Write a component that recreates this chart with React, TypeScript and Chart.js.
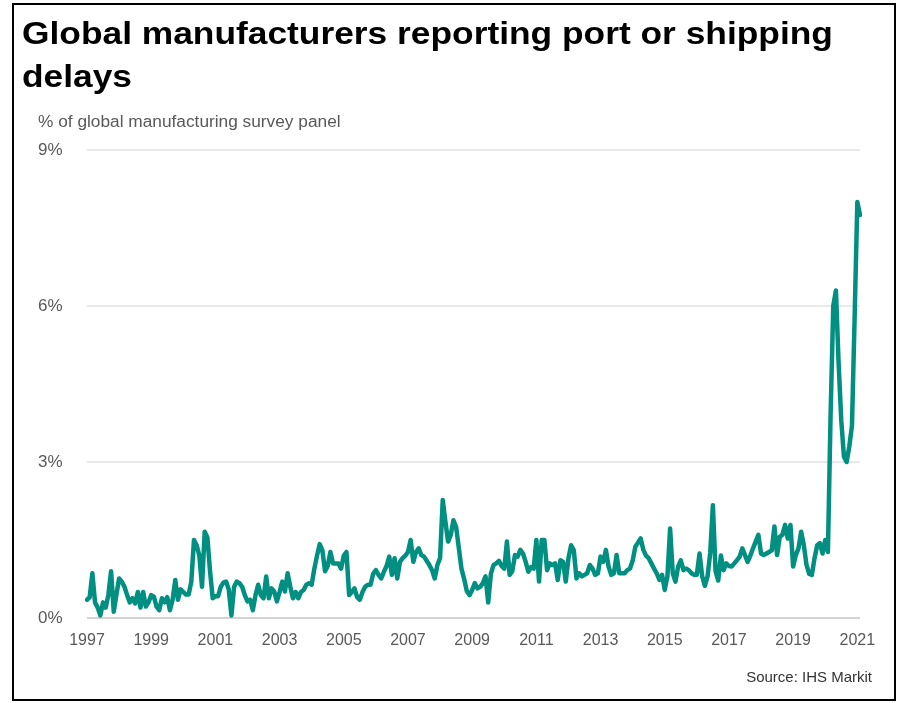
import React, { useEffect, useRef } from "react";
import { Chart, registerables } from "chart.js";

Chart.register(...registerables);

// Monthly values (% of global manufacturing survey panel), Jan 1997 – Feb 2021
const v1997 = [0.35, 0.40, 0.86, 0.30, 0.20, 0.05, 0.30, 0.20, 0.45, 0.90, 0.12, 0.45];
const v1998 = [0.76, 0.70, 0.60, 0.44, 0.30, 0.38, 0.28, 0.50, 0.20, 0.50, 0.22, 0.30];
const v1999 = [0.44, 0.41, 0.22, 0.15, 0.38, 0.30, 0.40, 0.15, 0.35, 0.73, 0.35, 0.55];
const v2000 = [0.50, 0.45, 0.45, 0.70, 1.50, 1.40, 1.20, 0.60, 1.66, 1.55, 0.90, 0.38];
const v2001 = [0.42, 0.42, 0.60, 0.68, 0.70, 0.55, 0.05, 0.60, 0.70, 0.67, 0.60, 0.44];
const v2002 = [0.32, 0.35, 0.15, 0.44, 0.64, 0.44, 0.38, 0.80, 0.38, 0.57, 0.51, 0.32];
const v2003 = [0.50, 0.70, 0.51, 0.86, 0.60, 0.38, 0.50, 0.38, 0.50, 0.54, 0.64, 0.67];
const v2004 = [0.64, 0.95, 1.20, 1.42, 1.30, 0.90, 1.00, 1.27, 1.05, 1.05, 1.05, 0.95];
const v2005 = [1.20, 1.27, 0.44, 0.50, 0.57, 0.40, 0.35, 0.50, 0.60, 0.64, 0.64, 0.85];
const v2006 = [0.92, 0.83, 0.76, 0.89, 1.00, 1.18, 0.83, 1.15, 0.76, 1.08, 1.15, 1.20];
const v2007 = [1.27, 1.50, 1.08, 1.27, 1.34, 1.21, 1.18, 1.10, 1.02, 0.92, 0.76, 1.02];
const v2008 = [1.15, 2.27, 1.85, 1.47, 1.60, 1.88, 1.75, 1.35, 0.95, 0.75, 0.52, 0.44];
const v2009 = [0.54, 0.67, 0.57, 0.60, 0.67, 0.80, 0.30, 0.85, 1.02, 1.05, 1.10, 1.00];
const v2010 = [0.95, 1.47, 0.83, 0.90, 1.21, 1.18, 1.31, 1.24, 1.08, 0.89, 0.98, 0.95];
const v2011 = [1.50, 0.70, 1.50, 1.50, 0.92, 1.05, 1.02, 1.05, 0.73, 1.11, 1.08, 0.70];
const v2012 = [1.15, 1.40, 1.30, 0.76, 0.86, 0.80, 0.83, 0.86, 1.02, 0.95, 0.83, 0.86];
const v2013 = [1.18, 1.08, 1.31, 0.99, 0.83, 0.86, 1.21, 0.86, 0.86, 0.86, 0.92, 0.95];
const v2014 = [1.10, 1.37, 1.45, 1.53, 1.31, 1.20, 1.15, 1.05, 0.95, 0.86, 0.73, 0.83];
const v2015 = [0.54, 0.80, 1.72, 0.86, 0.70, 0.99, 1.11, 0.92, 0.95, 0.92, 0.86, 0.83];
const v2016 = [0.83, 1.24, 0.80, 0.62, 0.80, 1.25, 2.17, 0.90, 0.72, 1.20, 0.92, 1.05];
const v2017 = [1.00, 0.99, 1.05, 1.11, 1.18, 1.34, 1.21, 1.08, 1.20, 1.34, 1.47, 1.60];
const v2018 = [1.24, 1.21, 1.24, 1.27, 1.30, 1.76, 1.21, 1.56, 1.60, 1.79, 1.53, 1.79];
const v2019 = [0.99, 1.21, 1.34, 1.66, 1.40, 1.02, 0.85, 0.83, 1.15, 1.40, 1.44, 1.24];
const v2020 = [1.50, 1.27, 3.90, 6.00, 6.30, 4.90, 3.80, 3.10, 3.00, 3.30, 3.70, 5.80];
const v2021 = [8.00, 7.75];

const startYear = 1997;
const yearSeries = [
  v1997, v1998, v1999, v2000, v2001, v2002, v2003, v2004, v2005, v2006, v2007, v2008,
  v2009, v2010, v2011, v2012, v2013, v2014, v2015, v2016, v2017, v2018, v2019, v2020, v2021,
];
const values: number[] = yearSeries.flat();
const monthLabels: string[] = values.map(
  (_, i) => `${startYear + Math.floor(i / 12)}-${String((i % 12) + 1).padStart(2, "0")}`
);
const xTickEveryMonths = 24;
const yTickValues = [0, 3, 6, 9];

const titleLines = ["Global manufacturers reporting port or shipping", "delays"];
const subtitleText = "% of global manufacturing survey panel";
const sourceText = "Source: IHS Markit";

const FONT = "'Liberation Sans', Arial, Helvetica, sans-serif";
const LINE_COLOR = "#008f80";

export default function App() {
  const canvasRef = useRef<HTMLCanvasElement | null>(null);

  useEffect(() => {
    if (!canvasRef.current) return;
    Chart.defaults.font.family = FONT;
    const chart = new Chart(canvasRef.current, {
      type: "line",
      data: {
        labels: monthLabels,
        datasets: [
          {
            data: values,
            borderColor: LINE_COLOR,
            borderWidth: 4.5,
            pointRadius: 0,
            tension: 0,
            borderJoinStyle: "round",
            borderCapStyle: "round",
            fill: false,
          },
        ],
      },
      options: {
        animation: false,
        responsive: false,
        events: [],
        layout: { padding: { left: 38, top: 150, right: 41, bottom: 55 } },
        plugins: {
          legend: { display: false },
          tooltip: { enabled: false },
          title: { display: false },
        },
        scales: {
          x: {
            type: "category",
            grid: { display: false, drawTicks: false },
            border: { display: false },
            afterBuildTicks: (scale: any) => {
              scale.ticks = scale.ticks.filter((t: any) => t.value % xTickEveryMonths === 0);
            },
            afterFit: (scale: any) => {
              scale.height = 30;
            },
            ticks: {
              autoSkip: false,
              maxRotation: 0,
              minRotation: 0,
              padding: 13,
              color: "#595959",
              font: { size: 16, family: FONT },
              callback: (value: any) => String(startYear + Math.floor(Number(value) / 12)),
            },
          },
          y: {
            min: 0,
            max: 9,
            afterBuildTicks: (scale: any) => {
              scale.ticks = yTickValues.map((v) => ({ value: v }));
            },
            afterFit: (scale: any) => {
              scale.width = 49;
            },
            grid: {
              drawTicks: false,
              color: (ctx: any) => (ctx.tick && ctx.tick.value === 0 ? "#d4d4d4" : "#e9e9e9"),
              lineWidth: 2,
            },
            border: { display: false },
            ticks: {
              crossAlign: "far",
              padding: 0,
              color: "#595959",
              font: { size: 17, family: FONT },
              callback: (value: any) => `${value}%`,
            },
          },
        },
      },
    });
    return () => chart.destroy();
  }, []);

  return (
    <div
      style={{
        position: "absolute",
        left: 0,
        top: 0,
        width: 901,
        height: 703,
        background: "#ffffff",
        overflow: "hidden",
        fontFamily: FONT,
      }}
    >
      <canvas
        ref={canvasRef}
        width={901}
        height={703}
        style={{ position: "absolute", left: 0, top: 0, width: 901, height: 703 }}
        aria-label={titleLines.join(" ")}
      />
      <div
        style={{
          position: "absolute",
          left: 12,
          top: 3,
          width: 884,
          height: 698,
          boxSizing: "border-box",
          border: "2px solid #000",
          pointerEvents: "none",
        }}
      />
      <div
        style={{
          position: "absolute",
          left: 22,
          top: 12,
          fontSize: 31,
          lineHeight: "43px",
          fontWeight: 700,
          color: "#000",
          whiteSpace: "nowrap",
          transform: "scaleX(1.14)",
          transformOrigin: "0 0",
        }}
      >
        <div>{titleLines[0]}</div>
        <div>{titleLines[1]}</div>
      </div>
      <div
        style={{
          position: "absolute",
          left: 38,
          top: 112,
          fontSize: 16,
          lineHeight: "19px",
          color: "#595959",
          whiteSpace: "nowrap",
          transform: "scaleX(1.08)",
          transformOrigin: "0 0",
        }}
      >
        {subtitleText}
      </div>
      <div
        style={{
          position: "absolute",
          right: 901 - 872,
          top: 668,
          fontSize: 15,
          lineHeight: "18px",
          color: "#333",
          whiteSpace: "nowrap",
        }}
      >
        {sourceText}
      </div>
    </div>
  );
}
